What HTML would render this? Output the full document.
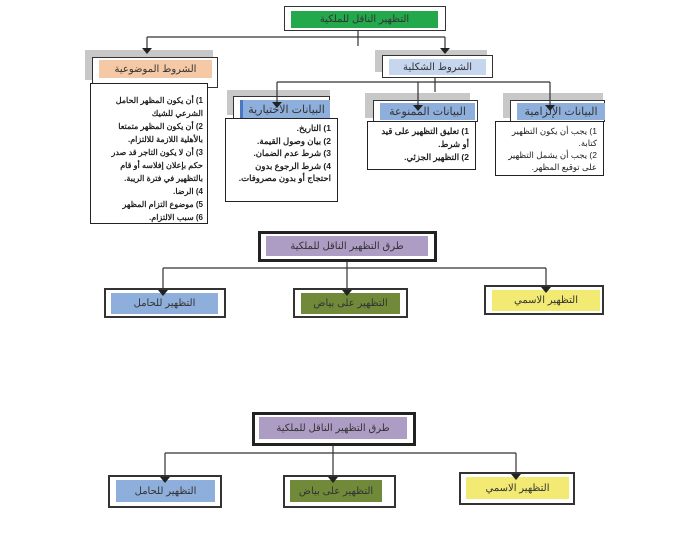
<!DOCTYPE html>
<html><head><meta charset="utf-8"><style>
body{margin:0;width:684px;height:541px;background:#fff;position:relative;overflow:hidden;font-family:"Liberation Sans","Noto Sans CJK SC",sans-serif}
.a{position:absolute;box-sizing:border-box}
.sh{background:#c8c8c8}
.bx{border:1.5px solid #333;background:#fff}
.bx3{border:3px solid #222;background:#fff}
.f{display:flex;align-items:center;justify-content:center;font-size:10px;color:#333;direction:rtl}
.t{border:1.3px solid #222;background:#fff;font-size:8.5px;font-weight:bold;direction:rtl;padding:5px 6px;line-height:12.5px;color:#222}
.t div{margin:0}
svg{position:absolute;left:0;top:0}
</style></head><body>
<div class="a bx" style="left:284px;top:6px;width:162px;height:25px"></div>
<div class="a f" style="left:291px;top:11px;width:147px;height:17px;background:#23a84c">التظهير الناقل للملكية</div>

<div class="a sh" style="left:85px;top:50px;width:128px;height:30px"></div>
<div class="a bx" style="left:92px;top:57px;width:126px;height:31px"></div>
<div class="a f" style="left:99px;top:60px;width:113px;height:18px;background:#f5c9a6">الشروط الموضوعية</div>

<div class="a sh" style="left:375px;top:50px;width:112px;height:22px"></div>
<div class="a bx" style="left:382px;top:55px;width:111px;height:23px"></div>
<div class="a f" style="left:389px;top:59px;width:97px;height:16px;background:#c5d6ee">الشروط الشكلية</div>

<div class="a sh" style="left:227px;top:90px;width:103px;height:25px"></div>
<div class="a bx" style="left:233px;top:96px;width:97px;height:24px"></div>
<div class="a f" style="left:240px;top:100px;width:90px;height:18px;background:#8eaedb;border-left:3px solid #4a78c0;font-size:11px">البيانات الاختيارية</div>

<div class="a sh" style="left:365px;top:93px;width:105px;height:25px"></div>
<div class="a bx" style="left:373px;top:100px;width:105px;height:22px"></div>
<div class="a f" style="left:380px;top:103px;width:95px;height:17px;background:#8eaedb;font-size:11px">البيانات الممنوعة</div>

<div class="a sh" style="left:503px;top:93px;width:100px;height:25px"></div>
<div class="a bx" style="left:510px;top:100px;width:95px;height:22px"></div>
<div class="a f" style="left:517px;top:103px;width:88px;height:17px;background:#8eaedb;font-size:11px">البيانات الإلزامية</div>

<div class="a t" style="left:90px;top:83px;width:118px;height:141px;font-size:8px;line-height:13px;padding:10px 4px">
<div>1) أن يكون المظهر الحامل الشرعي للشيك</div><div>2) أن يكون المظهر متمتعا بالأهلية اللازمة للالتزام.</div><div>3) أن لا يكون التاجر قد صدر حكم بإعلان إفلاسه أو قام بالتظهير في فترة الريبة.</div><div>4) الرضا.</div><div>5) موضوع التزام المظهر</div><div>6) سبب الالتزام.</div></div>
<div class="a t" style="left:225px;top:118px;width:113px;height:84px;padding:3px 6px">
<div>1) التاريخ.</div><div>2) بيان وصول القيمة.</div><div>3) شرط عدم الضمان.</div><div>4) شرط الرجوع بدون احتجاج أو بدون مصروفات.</div></div>
<div class="a t" style="left:367px;top:121px;width:109px;height:49px;padding:3px 6px;line-height:13px">
<div>1) تعليق التظهير على قيد أو شرط.</div><div>2) التظهير الجزئي.</div></div>
<div class="a t" style="left:495px;top:121px;width:109px;height:55px;padding:3px 6px;line-height:12px;font-weight:normal">
<div>1) يجب أن يكون التظهير كتابة.</div><div>2) يجب أن يشمل التظهير على توقيع المظهر.</div></div>

<div class="a bx3" style="left:258px;top:231px;width:179px;height:31px"></div>
<div class="a f" style="left:266px;top:236px;width:162px;height:20px;background:#ad9cc4">طرق التظهير الناقل للملكية</div>
<div class="a bx" style="left:104px;top:288px;width:122px;height:30px;border-width:2px"></div>
<div class="a f" style="left:111px;top:293px;width:107px;height:21px;background:#8eaedb">التظهير للحامل</div>
<div class="a bx" style="left:293px;top:288px;width:115px;height:30px;border-width:2px"></div>
<div class="a f" style="left:301px;top:293px;width:99px;height:21px;background:#718a3a">التظهير على بياض</div>
<div class="a bx" style="left:484px;top:285px;width:120px;height:30px;border-width:2px"></div>
<div class="a f" style="left:492px;top:290px;width:108px;height:21px;background:#f2ea72">التظهير الاسمي</div>

<div class="a bx3" style="left:252px;top:412px;width:164px;height:34px"></div>
<div class="a f" style="left:259px;top:417px;width:148px;height:22px;background:#ad9cc4">طرق التظهير الناقل للملكية</div>
<div class="a bx" style="left:108px;top:475px;width:114px;height:33px;border-width:2px"></div>
<div class="a f" style="left:116px;top:480px;width:99px;height:22px;background:#8eaedb">التظهير للحامل</div>
<div class="a bx" style="left:283px;top:475px;width:113px;height:33px;border-width:2px"></div>
<div class="a f" style="left:290px;top:480px;width:92px;height:22px;background:#718a3a">التظهير على بياض</div>
<div class="a bx" style="left:459px;top:472px;width:116px;height:33px;border-width:2px"></div>
<div class="a f" style="left:466px;top:477px;width:103px;height:22px;background:#f2ea72">التظهير الاسمي</div>

<svg width="684" height="541" fill="none" stroke="#333" stroke-width="1.2">
<path d="M358 31V46M147 37H445M147 37V49M445 37V49"/>
<path d="M435 78V92M277 82H550M277 82V103M418 82V106M550 82V106"/>
<path d="M347 262V277M163 268H546M163 268V291M347 268V291M546 268V288"/>
<path d="M333 446V472M165 453H516M165 453V478M333 453V478M516 453V475"/>
<g fill="#222" stroke="none">
<path d="M142 48h10l-5 6z"/><path d="M440 48h10l-5 6z"/>
<path d="M272 102h10l-5 6z"/><path d="M413 105h10l-5 6z"/><path d="M545 105h10l-5 6z"/>
<path d="M158 290h10l-5 6z"/><path d="M342 290h10l-5 6z"/><path d="M541 287h10l-5 6z"/>
<path d="M160 477h10l-5 6z"/><path d="M328 477h10l-5 6z"/><path d="M511 474h10l-5 6z"/>
</g>
</svg>
</body></html>
